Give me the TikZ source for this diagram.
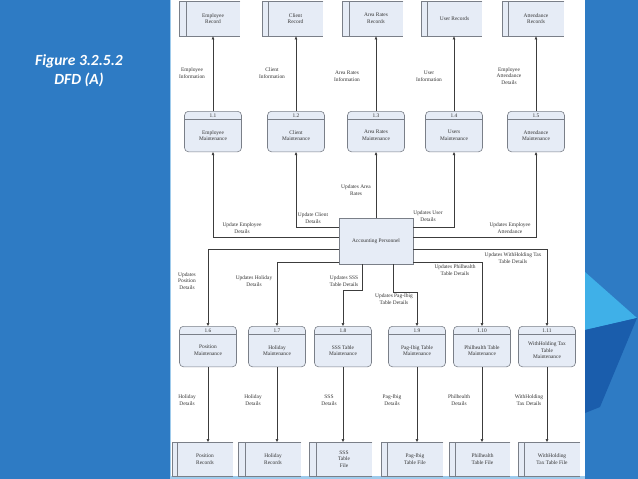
\documentclass[tikz,border=0pt]{standalone}
\usepackage{fontspec}
\setmainfont{Liberation Serif}
\newfontfamily\capfont{Carlito}
\usetikzlibrary{calc,arrows.meta}
\definecolor{bgblue}{HTML}{2E7BC4}
\definecolor{cyanlite}{HTML}{3FB0E8}
\definecolor{deepblue}{HTML}{1A5DAC}
\definecolor{edgeblue}{HTML}{9FCBEC}
\definecolor{boxfill}{HTML}{E6ECF6}
\definecolor{boxline}{HTML}{7A7F88}
\definecolor{wire}{HTML}{3C3C3C}
\newcommand\dstore[7]{%
  \node[storebg, minimum width={#4-#2}, minimum height={#6-#5}, anchor=north west] (#1) at (#2,#5) {};
  \draw[storeline] (#1.north east) -- (#1.north west) -- (#1.south west) -- (#1.south east);
  \draw[storeline] (#3,#5) -- (#3,#6);
  \node[lbl] (#1t) at ({(#3+#4)/2},{(#5+#6)/2}) {#7};
}
\newcommand\dproc[5]{%
  \node[proc, anchor=north] (#1) at (#2,#3) {};
  \draw[boxline, line width=0.5pt] ($(#1.north west)+(0,8)$) -- ($(#1.north east)+(0,8)$);
  \node[lbl] (#1n) at ($(#1.north)+(0,4.3)$) {#4};
  \node[lbl] (#1t) at ($(#1.north)+(0,24.5)$) {#5};
}
\begin{document}
\begin{tikzpicture}[x=1pt,y=-1pt,
  lbl/.style={font=\fontsize{5.4}{6.6}\selectfont, align=center, inner sep=0pt, text=black!80},
  proc/.style={draw=boxline, line width=0.6pt, fill=boxfill, rounded corners=4pt, minimum width=57pt, minimum height=40.5pt, inner sep=0pt},
  storebg/.style={fill=boxfill, draw=none, inner sep=0pt},
  storeline/.style={draw=boxline, line width=0.6pt},
  arr/.style={draw=wire, line width=0.55pt, -{Triangle[length=3pt,width=2.6pt]}},
  figcap/.style={font=\capfont\bfseries\itshape\fontsize{15.5}{19}\selectfont, text=white, align=center, inner sep=0pt}
]
\useasboundingbox (0,0) rectangle (638,479);
% background
\fill[bgblue] (0,0) rectangle (638,479);
\fill[cyanlite] (585,272) -- (637,318) -- (585,330) -- cycle;
\fill[deepblue] (585,330) -- (637,318) -- (600,407) -- (585,413) -- cycle;
\fill[white] (170,0) rectangle (585,476);
\draw[edgeblue, line width=1pt] (170.5,0) -- (170.5,476);
\fill[edgeblue] (170,476) rectangle (585,479);
% caption
\node[figcap] (caption) at (79,70.5) {Figure 3.2.5.2\\DFD (A)};
% top stores
\dstore{s1}{179}{186}{240}{1}{36}{Employee\\Record}
\dstore{s2}{262}{268}{323}{1}{36}{Client\\Record}
\dstore{s3}{342}{349}{403}{1}{36}{Area Rates\\Records}
\dstore{s4}{421}{427}{482}{1}{36}{User Records}
\dstore{s5}{502}{508}{564}{1}{36}{Attendance\\Records}
% bottom stores
\dstore{s6}{172}{177}{233}{442}{476}{Position\\Records}
\dstore{s7}{238}{245}{301}{442}{476}{Holiday\\Records}
\dstore{s8}{309}{316}{372}{442}{476}{SSS\\Table\\File}
\dstore{s9}{381}{387}{443}{442}{476}{Pag-Ibig\\Table File}
\dstore{s10}{449}{455}{510}{442}{476}{Philhealth\\Table File}
\dstore{s11}{518}{524}{580}{442}{476}{WithHolding\\Tax Table File}
% processes row 1
\dproc{p1}{213}{111}{1.1}{Employee\\Maintenance}
\dproc{p2}{296}{111}{1.2}{Client\\Maintenance}
\dproc{p3}{376}{111}{1.3}{Area Rates\\Maintenance}
\dproc{p4}{454}{111}{1.4}{Users\\Maintenance}
\dproc{p5}{536}{111}{1.5}{Attendance\\Maintenance}
% processes row 2
\dproc{p6}{208}{326}{1.6}{Position\\Maintenance}
\dproc{p7}{277}{326}{1.7}{Holiday\\Maintenance}
\dproc{p8}{343}{326}{1.8}{SSS Table\\Maintenance}
\dproc{p9}{417}{326}{1.9}{Pag-Ibig Table\\Maintenance}
\dproc{p10}{482}{326}{1.10}{Philhealth Table\\Maintenance}
\dproc{p11}{547}{326}{1.11}{WithHolding Tax\\Table\\Maintenance}
% accounting personnel
\node[draw=boxline, line width=0.6pt, fill=boxfill, minimum width=74pt, minimum height=46pt, inner sep=0pt, font=\fontsize{5.4}{6.6}\selectfont, text=black!80] (acc) at (376,241) {Accounting Personnel};
% row1 -> top stores
\foreach \p/\s in {p1/s1,p2/s2,p3/s3,p4/s4,p5/s5}{
  \draw[arr] (\p.north) -- (\p.north |- \s.south);
}
% row2 -> bottom stores
\foreach \p/\s in {p6/s6,p7/s7,p8/s8,p9/s9,p10/s10,p11/s11}{
  \draw[arr] (\p.south) -- (\p.south |- \s.north);
}
% accounting -> row 1
\draw[arr] (acc.west |- 0,237) -| (p1.south);
\draw[arr] (acc.west |- 0,227) -| (p2.south);
\draw[arr] (acc.north) -- (p3.south);
\draw[arr] (acc.east |- 0,227) -| (p4.south);
\draw[arr] (acc.east |- 0,237) -| (p5.south);
% accounting -> row 2
\draw[arr] (acc.west |- 0,249) -| (p6.north);
\draw[arr] (acc.west |- 0,262) -| (p7.north);
\draw[arr] (acc.south -| 362,0) |- ($(p8.north)+(0,-36)$) -- (p8.north);
\draw[arr] (acc.south -| 393,0) |- ($(p9.north)+(0,-34)$) -- (p9.north);
\draw[arr] (acc.east |- 0,262) -| (p10.north);
\draw[arr] (acc.east |- 0,249) -| (p11.north);
% flow labels
\node[lbl] (l1) at (192,73) {Employee\\Information};
\node[lbl] (l2) at (272,73) {Client\\Information};
\node[lbl] (l3) at (347,76) {Area Rates\\Information};
\node[lbl] (l4) at (429,76) {User\\Information};
\node[lbl] (l5) at (509,76) {Employee\\Attendance\\Details};
\node[lbl] (l6) at (242,228) {Update Employee\\Details};
\node[lbl] (l7) at (313,218) {Update Client\\Details};
\node[lbl] (l8) at (356,190) {Updates Area\\Rates};
\node[lbl] (l9) at (428,216) {Updates User\\Details};
\node[lbl] (l10) at (510,228) {Updates Employee\\Attendance};
\node[lbl] (l11) at (187,281) {Updates\\Position\\Details};
\node[lbl] (l12) at (254,281) {Updates Holiday\\Details};
\node[lbl] (l13) at (344,281) {Updates SSS\\Table Details};
\node[lbl] (l14) at (394,299) {Updates Pag-Ibig\\Table Details};
\node[lbl] (l15) at (455,270) {Updates Philhealth\\Table Details};
\node[lbl] (l16) at (513,258) {Updates WithHolding Tax\\Table Details};
\node[lbl] (l17) at (187,400) {Holiday\\Details};
\node[lbl] (l18) at (253,400) {Holiday\\Details};
\node[lbl] (l19) at (329,400) {SSS\\Details};
\node[lbl] (l20) at (392,400) {Pag-Ibig\\Details};
\node[lbl] (l21) at (459,400) {Philhealth\\Details};
\node[lbl] (l22) at (529,400) {WithHolding\\Tax Details};
\end{tikzpicture}
\end{document}
